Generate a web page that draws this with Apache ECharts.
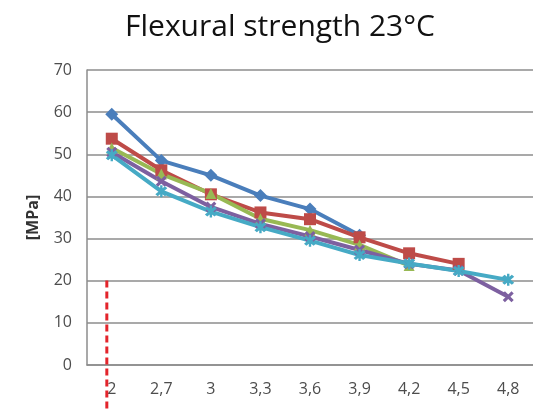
<!DOCTYPE html>
<html><head><meta charset="utf-8">
<script src="https://cdn.jsdelivr.net/npm/echarts@6/dist/echarts.min.js"></script>
<style>html,body{margin:0;padding:0;background:#fff}#c{width:533px;height:409px}</style>
</head><body><div id="c"></div>
<script>
var categories = ['2','2,7','3','3,3','3,6','3,9','4,2','4,5','4,8'];
var blueVals   = [59.5, 48.5, 45.0, 40.2, 37.0, 30.8, null, null, null];
var redVals    = [53.7, 46.2, 40.5, 36.2, 34.6, 30.3, 26.5, 24.0, null];
var greenVals  = [51.5, 45.3, 40.7, 34.7, 32.0, 28.5, 23.6, null, null];
var purpleVals = [50.5, 43.6, 37.5, 33.5, 30.5, 27.3, 24.0, 22.4, 16.2];
var cyanVals   = [49.8, 41.2, 36.4, 32.7, 29.5, 26.1, 24.1, 22.3, 20.2];
var yTicks = [0, 10, 20, 30, 40, 50, 60, 70];
var markerLine = [[-0.1, 20], [-0.1, -10.5]];

var xPath = 'path://M0,2L2,0L5,3L8,0L10,2L7,5L10,8L8,10L5,7L2,10L0,8L3,5Z';
var starPath = 'path://M0,3L2,1L5,4L8,1L10,3L7,6L10,9L8,11L5,8L2,11L0,9L3,6Z M4,0L6,0L6,12L4,12Z';

function mk(name, data, color, symbol, size) {
  return {
    name: name, type: 'line', data: data, color: color,
    symbol: symbol, symbolSize: size, showSymbol: true,
    lineStyle: {width: 4, color: color},
    itemStyle: {color: color},
    connectNulls: false, animation: false, z: 3
  };
}

var chart = echarts.init(document.getElementById('c'));
chart.setOption({
  animation: false,
  title: {
    text: 'Flexural strength 23°C', top: 7, left: 275, textAlign: 'center',
    textStyle: {fontFamily: 'Open Sans', fontSize: 30, fontWeight: 'normal', color: '#111'}
  },
  grid: [
    {left: 87, right: 0, top: 70, bottom: 44},
    {left: 87, right: 0, top: 70, bottom: 0}
  ],
  xAxis: [{
    type: 'category', data: categories, gridIndex: 0,
    boundaryGap: true,
    axisLine: {lineStyle: {color: '#8c8c8c', width: 1.5}},
    axisTick: {show: false},
    axisLabel: {color: '#4d4d4d', fontSize: 16, fontFamily: 'Open Sans', margin: 16}
  }, {
    type: 'value', gridIndex: 1, min: -0.5, max: 8.5, show: false
  }],
  yAxis: [{
    type: 'value', min: 0, max: 70, interval: 10, gridIndex: 0,
    name: '[MPa]', nameLocation: 'middle', nameGap: 46, nameRotate: 90,
    nameTextStyle: {fontFamily: 'Open Sans', fontSize: 16, fontWeight: 'bold', color: '#333'},
    axisLine: {show: true, lineStyle: {color: '#8c8c8c', width: 1.5}},
    axisTick: {show: false},
    axisLabel: {color: '#4d4d4d', fontSize: 16, fontFamily: 'Open Sans', margin: 15,
      formatter: function (v) { return yTicks.indexOf(v) >= 0 ? String(v) : ''; }},
    splitLine: {lineStyle: {color: '#8c8c8c', width: 1.5}}
  }, {
    type: 'value', gridIndex: 1, min: -10.5, max: 70, show: false
  }],
  series: [
    mk('S1', blueVals, '#4a7ebb', 'diamond', 13),
    mk('S2', redVals, '#be4b48', 'rect', 12),
    mk('S3', greenVals, '#98b954', 'triangle', 11),
    mk('S4', purpleVals, '#7d60a0', xPath, 11),
    mk('S5', cyanVals, '#46aac5', starPath, 12),
    {
      type: 'line', xAxisIndex: 1, yAxisIndex: 1, data: markerLine,
      symbol: 'none', silent: true, z: 5,
      lineStyle: {color: '#e3242b', width: 3, type: [7, 4]}
    }
  ]
});
</script></body></html>
